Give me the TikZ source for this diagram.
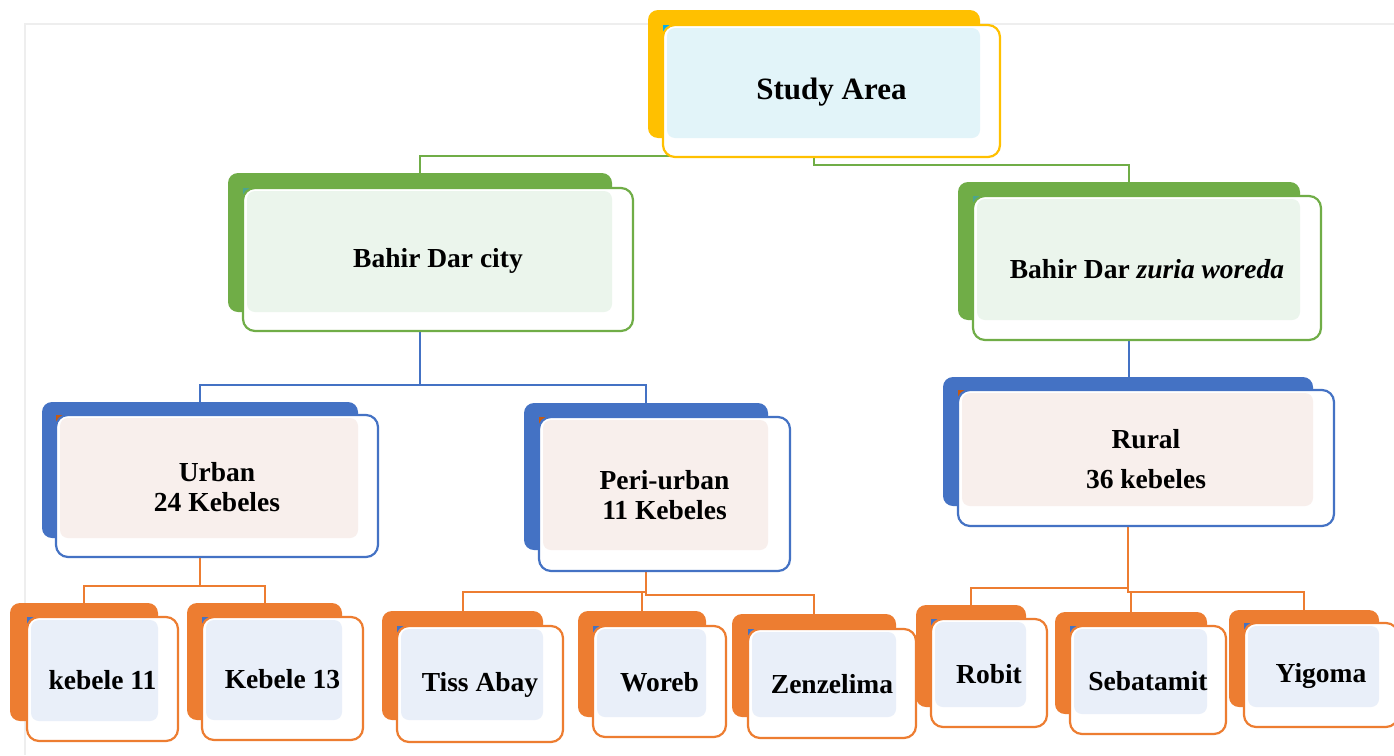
\documentclass[tikz,border=0pt]{standalone}
\usepackage{fontspec}
\setmainfont{Liberation Serif}
\usetikzlibrary{calc,fit,backgrounds}
\definecolor{cyel}{HTML}{FFC000}
\definecolor{cgrn}{HTML}{70AD47}
\definecolor{cblu}{HTML}{4472C4}
\definecolor{corg}{HTML}{ED7D31}
\definecolor{tyel}{HTML}{E2F4F9}
\definecolor{tgrn}{HTML}{EBF5EC}
\definecolor{tblu}{HTML}{F8EFEC}
\definecolor{torg}{HTML}{E9EFF9}
\definecolor{kcyan}{HTML}{00B0F0}
\definecolor{kteal}{HTML}{4BA58F}
\definecolor{kbrn}{HTML}{C55A11}
\definecolor{framecol}{HTML}{EEEEEE}
\newcommand\labfont{\bfseries\fontsize{27.5}{30}\selectfont}
\tikzset{
  backbox/.style={fill=#1, rounded corners=10pt, inner sep=0pt, draw=none},
  frontbox/.style={draw=#1, line width=2.2pt, rounded corners=12pt, inner sep=0pt},
  labeltext/.style={align=center, font=\labfont, text=black, inner sep=0pt},
  conn/.style={draw=#1, line width=2pt},
  framestyle/.style={draw=framecol, line width=1.5pt},
}
% #1 name #2 colour #3 tint #4 corner colour #5 back NW #6 back SE #7 front NW #8 front SE #9 text
\newcommand\orgbox[9]{%
  \coordinate (#1-p) at (#5); \coordinate (#1-q) at (#6);
  \node[backbox=#2, fit=(#1-p)(#1-q)] (#1-bk) {};
  \coordinate (#1-a) at (#7); \coordinate (#1-b) at (#8);
  \fill[#4] (#1-a) -- ++(8,0) -- ++(-8,8) -- cycle;
  \fill[white, rounded corners=12pt] (#1-a) rectangle (#1-b);
  \fill[#3, rounded corners=8pt] ($(#1-a)+(4,3)$) rectangle (#6);
  \node[frontbox=#2, fit=(#1-a)(#1-b)] (#1) {};
  \node[labeltext] (#1-t) at ($(#1.center)+(0,1)$) {#9};
}
\begin{document}
\begin{tikzpicture}[x=1pt,y=-1pt]
\useasboundingbox (0,0) rectangle (1394,755);

\orgbox{study}{cyel}{tyel}{kcyan}{648,10}{980,138}{663,25}{1000,157}{\fontsize{31}{34}\selectfont Study Area}
\orgbox{city}{cgrn}{tgrn}{kteal}{228,173}{612,312}{243,188}{633,331}{Bahir Dar city}
\orgbox{woreda}{cgrn}{tgrn}{kteal}{958,182}{1300,320}{973,196}{1321,340}{Bahir Dar \textit{zuria woreda}}
\orgbox{urban}{cblu}{tblu}{kbrn}{42,402}{358,538}{56,415}{378,557}{Urban\\24 Kebeles}
\orgbox{peri}{cblu}{tblu}{kbrn}{524,403}{768,550}{539,417}{790,571}{Peri-urban\\11 Kebeles}
\orgbox{rural}{cblu}{tblu}{kbrn}{943,377}{1313,506}{958,390}{1334,526}{Rural\\[10pt]36 kebeles}
\orgbox{k11}{corg}{torg}{cblu}{10,603}{158,721}{27,617}{178,741}{kebele 11}
\orgbox{k13}{corg}{torg}{cblu}{187,603}{342,720}{202,617}{363,740}{Kebele 13}
\orgbox{tiss}{corg}{torg}{cblu}{382,611}{543,720}{397,626}{563,742}{Tiss Abay}
\orgbox{woreb}{corg}{torg}{cblu}{578,611}{706,717}{593,626}{726,737}{Woreb}
\orgbox{zenz}{corg}{torg}{cblu}{732,614}{896,717}{748,629}{916,738}{Zenzelima}
\orgbox{robit}{corg}{torg}{cblu}{916,605}{1026,707}{931,619}{1047,727}{Robit}
\orgbox{seba}{corg}{torg}{cblu}{1055,612}{1207,714}{1070,626}{1226,734}{Sebatamit}
\orgbox{yigoma}{corg}{torg}{cblu}{1229,610}{1379,707}{1244,623}{1398,727}{Yigoma}

\begin{scope}[on background layer]
  \fill[white] (0,0) rectangle (1394,755);
  \draw[framestyle] (25,755) -- (25,24) -- (1394,24);
  \draw[conn=cgrn] (study-bk.south) -- ++(0,18) -| (city-bk.north);
  \draw[conn=cgrn] (study-bk.south) -- ++(0,27) -| (woreda-bk.north);
  \draw[conn=cblu] (city-bk.south) -- ++(0,73) -| (urban-bk.north);
  \draw[conn=cblu] (city-bk.south) -- ++(0,73) -| (peri-bk.north);
  \draw[conn=cblu] (woreda-bk.south) -- (woreda-bk.south |- rural-bk.north);
  \draw[conn=corg] (urban-bk.south) -- ++(0,48) -| (k11-bk.north);
  \draw[conn=corg] (urban-bk.south) -- ++(0,48) -| (k13-bk.north);
  \draw[conn=corg] (peri-bk.south) -- ++(0,42) -| (tiss-bk.north);
  \draw[conn=corg] (peri-bk.south) -- ++(0,42) -| (woreb-bk.north);
  \draw[conn=corg] (peri-bk.south) -- ++(0,45) -| (zenz-bk.north);
  \draw[conn=corg] (rural-bk.south) -- ++(0,82) -| (robit-bk.north);
  \draw[conn=corg] (rural-bk.south) -- ++(0,86) -| (seba-bk.north);
  \draw[conn=corg] (rural-bk.south) -- ++(0,86) -| (yigoma-bk.north);
\end{scope}
\end{tikzpicture}
\end{document}
